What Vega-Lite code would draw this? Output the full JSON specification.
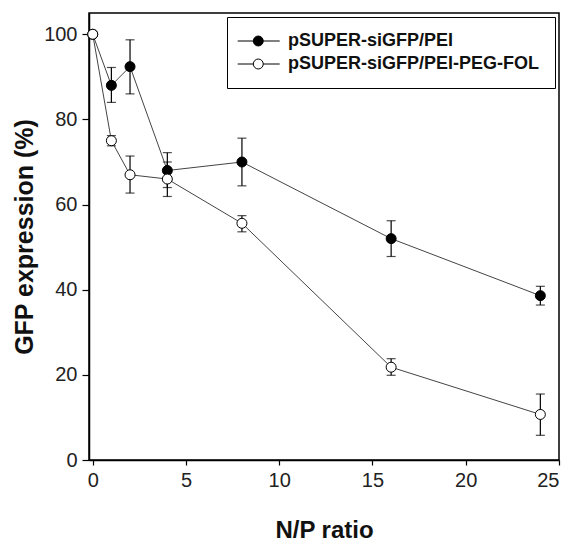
{
  "$schema": "https://vega.github.io/schema/vega-lite/v6.json",
  "width": 470,
  "height": 447,
  "autosize": "none",
  "padding": {"left": 89, "top": 13, "right": 16, "bottom": 84},
  "background": "white",
  "config": {
    "font": "Liberation Sans",
    "view": {"stroke": "black", "strokeWidth": 1.5},
    "axis": {
      "domainColor": "black", "domainWidth": 1.5, "tickColor": "black", "tickWidth": 1.2,
      "labelFont": "Liberation Sans", "labelFontSize": 20, "labelColor": "#222",
      "titleFont": "Liberation Sans", "titleFontSize": 25, "titleFontWeight": "bold", "titleColor": "#111",
      "grid": false
    },
    "legend": {
      "labelFont": "Liberation Sans", "labelFontSize": 18, "labelFontWeight": "bold", "labelColor": "#111",
      "strokeColor": "black", "fillColor": "white", "padding": 15, "labelLimit": 400
    }
  },
  "data": {
    "values": [
      {"series": "pSUPER-siGFP/PEI", "x": 0, "y": 100, "lo": 100, "hi": 100},
      {"series": "pSUPER-siGFP/PEI", "x": 1, "y": 88, "lo": 84, "hi": 92.2},
      {"series": "pSUPER-siGFP/PEI", "x": 2, "y": 92.4, "lo": 86, "hi": 98.7},
      {"series": "pSUPER-siGFP/PEI", "x": 4, "y": 68, "lo": 64, "hi": 72.2},
      {"series": "pSUPER-siGFP/PEI", "x": 8, "y": 70, "lo": 64.4, "hi": 75.6},
      {"series": "pSUPER-siGFP/PEI", "x": 16, "y": 52, "lo": 47.8, "hi": 56.2},
      {"series": "pSUPER-siGFP/PEI", "x": 24, "y": 38.6, "lo": 36.4, "hi": 40.8},
      {"series": "pSUPER-siGFP/PEI-PEG-FOL", "x": 0, "y": 100, "lo": 100, "hi": 100},
      {"series": "pSUPER-siGFP/PEI-PEG-FOL", "x": 1, "y": 75, "lo": 73.8, "hi": 76.2},
      {"series": "pSUPER-siGFP/PEI-PEG-FOL", "x": 2, "y": 67, "lo": 62.7, "hi": 71.4},
      {"series": "pSUPER-siGFP/PEI-PEG-FOL", "x": 4, "y": 66, "lo": 61.9, "hi": 70},
      {"series": "pSUPER-siGFP/PEI-PEG-FOL", "x": 8, "y": 55.6, "lo": 53.6, "hi": 57.4},
      {"series": "pSUPER-siGFP/PEI-PEG-FOL", "x": 16, "y": 21.8, "lo": 19.9, "hi": 23.8},
      {"series": "pSUPER-siGFP/PEI-PEG-FOL", "x": 24, "y": 10.7, "lo": 5.8, "hi": 15.5}
    ]
  },
  "layer": [
    {
      "mark": {"type": "errorbar", "color": "black", "ticks": {"size": 9, "thickness": 1.2, "color": "black"}, "rule": {"strokeWidth": 1.2, "color": "black"}},
      "encoding": {
        "x": {"field": "x", "type": "quantitative", "title": "N/P ratio"},
        "y": {"field": "lo", "type": "quantitative", "title": "GFP expression (%)"},
        "y2": {"field": "hi"}
      }
    },
    {
      "mark": {"type": "line", "color": "#444", "strokeWidth": 1},
      "encoding": {
        "x": {"field": "x", "type": "quantitative", "title": "N/P ratio"},
        "y": {"field": "y", "type": "quantitative", "title": "GFP expression (%)"},
        "detail": {"field": "series"}
      }
    },
    {
      "mark": {"type": "point", "filled": true, "shape": "circle", "size": 100, "stroke": "black", "strokeWidth": 1, "opacity": 1},
      "encoding": {
        "x": {
          "field": "x", "type": "quantitative",
          "scale": {"domain": [-0.2, 25], "nice": false, "zero": false},
          "axis": {"values": [0, 5, 10, 15, 20, 25], "title": "N/P ratio", "titleFontSize": 24, "tickSize": 5, "labelPadding": 5, "titlePadding": 28}
        },
        "y": {
          "field": "y", "type": "quantitative",
          "scale": {"domain": [0, 105], "nice": false},
          "axis": {"values": [0, 20, 40, 60, 80, 100], "title": "GFP expression (%)", "tickSize": 7, "labelPadding": 5, "titlePadding": 6}
        },
        "fill": {
          "field": "series", "type": "nominal",
          "scale": {"domain": ["pSUPER-siGFP/PEI", "pSUPER-siGFP/PEI-PEG-FOL"], "range": ["black", "white"]},
          "legend": {
            "title": null, "orient": "top-right", "offset": 4,
            "symbolType": "M-1.9,0L0.33,0M1.75,0L4.1,0M1.75,0A0.71,0.71 0 1,1 0.33,0A0.71,0.71 0 1,1 1.75,0Z",
            "symbolSize": 196, "symbolStrokeColor": "black", "symbolStrokeWidth": 1,
            "labelOffset": 28, "rowPadding": 5
          }
        }
      }
    }
  ]
}
